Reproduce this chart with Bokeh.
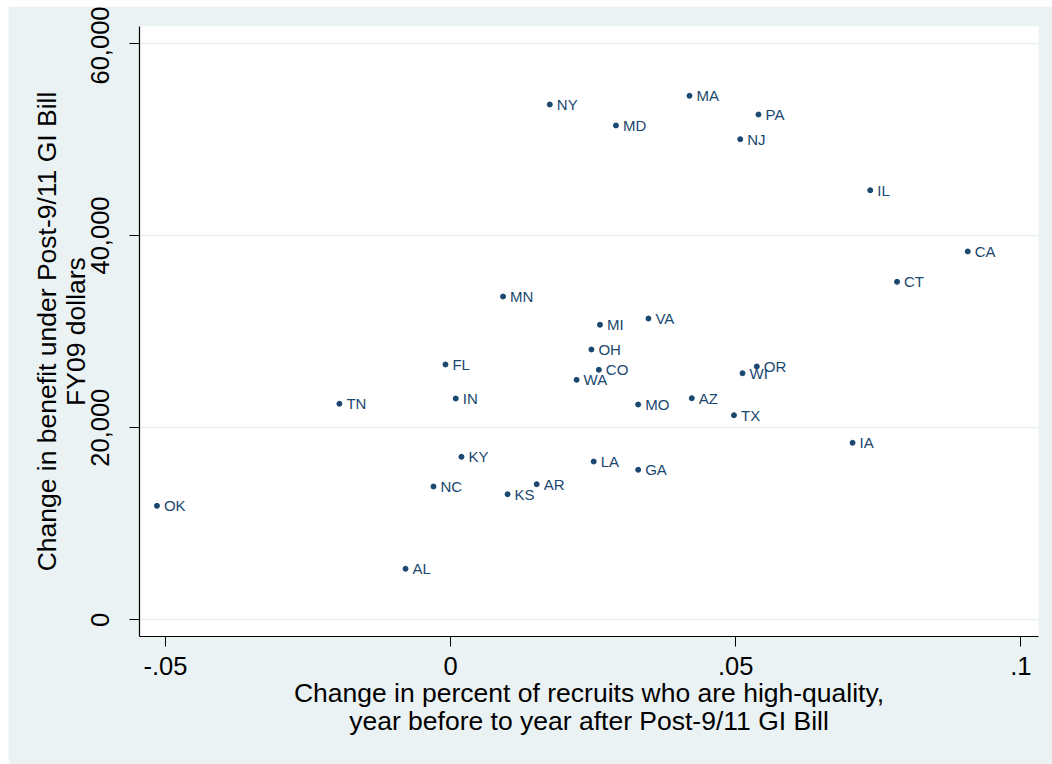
from bokeh.plotting import figure
from bokeh.models import ColumnDataSource, FixedTicker
from bokeh.core.properties import value
from bokeh.embed import file_html
from bokeh.resources import INLINE

states = ["OK", "TN", "AL", "NC", "FL", "IN", "KY", "MN", "KS", "AR", "NY",
          "WA", "OH", "LA", "MI", "CO", "MD", "MO", "GA", "VA", "MA", "AZ",
          "TX", "NJ", "WI", "PA", "OR", "IA", "IL", "CT", "CA"]
pct_change = [-0.0515, -0.0195, -0.0079, -0.0030, -0.0009, 0.0009, 0.0019,
              0.0092, 0.0100, 0.0151, 0.0174, 0.0221, 0.0247, 0.0251, 0.0262,
              0.0260, 0.0290, 0.0329, 0.0329, 0.0347, 0.0419, 0.0423, 0.0497,
              0.0508, 0.0512, 0.0540, 0.0537, 0.0705, 0.0736, 0.0783, 0.0907]
benefit_change = [11870, 22490, 5320, 13880, 26580, 23040, 16970, 33650,
                  13080, 14120, 53630, 24980, 28140, 16480, 30710, 26030,
                  51450, 22410, 15620, 31360, 54540, 23070, 21300, 50020,
                  25670, 52590, 26370, 18430, 44710, 35180, 38340]

x_ticks = [-0.05, 0, 0.05, 0.1]
x_tick_labels = ["-.05", "0", ".05", ".1"]
y_ticks = [0, 20000, 40000, 60000]
y_tick_labels = ["0", "20,000", "40,000", "60,000"]

NAVY = "#1a476f"
BG = "#eaf2f3"
FONT = "Liberation Sans"

src = ColumnDataSource(dict(x=pct_change, y=benefit_change, label=states))

p = figure(width=1044, height=758, output_backend="svg", toolbar_location=None,
           x_range=(-0.05456, 0.10311), y_range=(-1727, 61748),
           min_border_left=131, min_border_right=14, min_border_top=20,
           min_border_bottom=128)
p.styles = {"margin-left": "8px", "margin-top": "6px"}
p.border_fill_color = BG
p.background_fill_color = "white"
p.outline_line_color = None

p.scatter("x", "y", source=src, size=5, color=NAVY)
p.text("x", "y", text="label", source=src, x_offset=7, text_baseline="middle",
       text_align="left", text_color=NAVY, text_font=value(FONT),
       text_font_size="15px")

p.xgrid.visible = False
p.ygrid.grid_line_color = BG
p.ygrid.grid_line_width = 1.5

p.xaxis.ticker = FixedTicker(ticks=x_ticks)
p.xaxis.major_label_overrides = {t: l for t, l in zip(x_ticks, x_tick_labels)}
p.yaxis.ticker = FixedTicker(ticks=y_ticks)
p.yaxis.major_label_overrides = {t: l for t, l in zip(y_ticks, y_tick_labels)}
p.yaxis.major_label_orientation = "vertical"

p.xaxis.axis_label = ("Change in percent of recruits who are high-quality,\n"
                      "year before to year after Post-9/11 GI Bill")
p.yaxis.axis_label = "Change in benefit under Post-9/11 GI Bill\nFY09 dollars"

for ax in (p.xaxis[0], p.yaxis[0]):
    ax.axis_line_color = "black"
    ax.axis_line_width = 1.2
    ax.major_tick_line_color = "black"
    ax.major_tick_line_width = 1
    ax.major_tick_out = 10
    ax.major_tick_in = 0
    ax.minor_tick_line_color = None
    ax.major_label_text_font = FONT
    ax.major_label_text_font_size = "25.5px"
    ax.major_label_text_color = "black"
    ax.axis_label_text_font = FONT
    ax.axis_label_text_font_size = "26.5px"
    ax.axis_label_text_font_style = "normal"
    ax.axis_label_text_color = "black"
    ax.axis_label_text_line_height = 0.95
    ax.axis_label_text_align = "center"

p.xaxis.major_label_standoff = 10
p.yaxis.major_label_standoff = 20
p.xaxis.axis_label_standoff = 0
p.yaxis.axis_label_standoff = -2

open("out.html", "w").write(file_html(p, INLINE))
